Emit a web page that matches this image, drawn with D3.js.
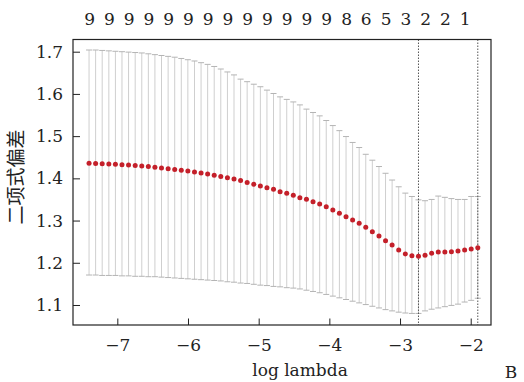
<!DOCTYPE html>
<meta charset="utf-8">
<style>
body { margin: 0; background: #fff; }
</style>
<svg width="524" height="382"></svg>
<script src="https://d3js.org/d3.v7.min.js"></script>
<script>

// log(lambda) path of the cv fit
var logLambda = [-7.400, -7.307, -7.214, -7.120, -7.027, -6.934, -6.841, -6.747, -6.654, -6.561,
  -6.468, -6.375, -6.281, -6.188, -6.095, -6.002, -5.908, -5.815, -5.722, -5.629,
  -5.536, -5.442, -5.349, -5.256, -5.163, -5.069, -4.976, -4.883, -4.790, -4.697,
  -4.603, -4.510, -4.417, -4.324, -4.231, -4.137, -4.044, -3.951, -3.858, -3.764,
  -3.671, -3.578, -3.485, -3.392, -3.298, -3.205, -3.112, -3.019, -2.925, -2.832,
  -2.739, -2.646, -2.553, -2.459, -2.366, -2.273, -2.180, -2.086, -1.993, -1.900];

// mean cv binomial deviance
var cvm = [1.4356, 1.4354, 1.4347, 1.4340, 1.4335, 1.4325, 1.4316, 1.4306, 1.4292, 1.4278,
  1.4261, 1.4245, 1.4228, 1.4212, 1.4193, 1.4174, 1.4150, 1.4127, 1.4103, 1.4074,
  1.4046, 1.4015, 1.3984, 1.3946, 1.3904, 1.3859, 1.3819, 1.3778, 1.3740, 1.3684,
  1.3645, 1.3598, 1.3542, 1.3503, 1.3448, 1.3392, 1.3329, 1.3250, 1.3171, 1.3092,
  1.3013, 1.2934, 1.2840, 1.2737, 1.2634, 1.2524, 1.2421, 1.2303, 1.2208, 1.2165,
  1.2155, 1.2176, 1.2224, 1.2255, 1.2255, 1.2263, 1.2279, 1.2303, 1.2326, 1.2358];

var cvup = [1.704, 1.704, 1.703, 1.702, 1.701, 1.700, 1.699, 1.698, 1.697, 1.695,
  1.693, 1.691, 1.689, 1.687, 1.684, 1.681, 1.678, 1.674, 1.670, 1.665,
  1.659, 1.652, 1.645, 1.635, 1.629, 1.623, 1.617, 1.609, 1.601, 1.593,
  1.587, 1.581, 1.574, 1.564, 1.556, 1.548, 1.537, 1.525, 1.513, 1.499,
  1.485, 1.473, 1.457, 1.443, 1.428, 1.412, 1.396, 1.380, 1.365, 1.357,
  1.349, 1.347, 1.350, 1.358, 1.355, 1.352, 1.350, 1.350, 1.357, 1.357];

var cvlo = [1.171, 1.171, 1.170, 1.170, 1.170, 1.169, 1.169, 1.168, 1.168, 1.167,
  1.167, 1.166, 1.165, 1.164, 1.163, 1.162, 1.161, 1.160, 1.159, 1.158,
  1.157, 1.155, 1.154, 1.152, 1.151, 1.149, 1.147, 1.146, 1.144, 1.143,
  1.141, 1.140, 1.138, 1.135, 1.132, 1.129, 1.125, 1.121, 1.117, 1.113,
  1.109, 1.105, 1.101, 1.097, 1.093, 1.089, 1.086, 1.083, 1.081, 1.080,
  1.080, 1.086, 1.090, 1.093, 1.096, 1.099, 1.102, 1.107, 1.111, 1.116];

// number of nonzero coefs shown on top (every 3rd lambda)
var nzIndex = [0, 3, 6, 9, 12, 15, 18, 21, 24, 27, 30, 33, 36, 39, 42, 45, 48, 51, 54, 57];
var nzLabels = ["9", "9", "9", "9", "9", "9", "9", "9", "9", "9", "9", "9", "9", "8", "6", "5", "3", "2", "2", "1"];

var xTicks = [-7, -6, -5, -4, -3, -2];
var yTicks = [1.1, 1.2, 1.3, 1.4, 1.5, 1.6, 1.7];

var lambdaMin = -2.739, lambda1se = -1.900;

var serif = "DejaVu Serif";

var svg = d3.select("svg"),
    box = {left: 73, right: 491, top: 39.5, bottom: 325};

var x = d3.scaleLinear().domain([-7.627, -1.713]).range([box.left, box.right]),
    y = d3.scaleLinear().domain([1.0526, 1.7289]).range([box.bottom, box.top]);

var data = logLambda.map(function(l, i) {
  return {l: l, m: cvm[i], up: cvup[i], lo: cvlo[i]};
});

// error bars
var bars = svg.append("g");
bars.selectAll(".eb")
  .data(data)
  .enter().append("line")
    .attr("x1", function(d) { return x(d.l); })
    .attr("x2", function(d) { return x(d.l); })
    .attr("y1", function(d) { return y(d.up); })
    .attr("y2", function(d) { return y(d.lo); })
    .attr("stroke", "#cfcfcf")
    .attr("stroke-width", 1);

["up", "lo"].forEach(function(k) {
  bars.selectAll(".cap-" + k)
    .data(data)
    .enter().append("line")
      .attr("x1", function(d) { return x(d.l) - 3; })
      .attr("x2", function(d) { return x(d.l) + 3; })
      .attr("y1", function(d) { return y(d[k]); })
      .attr("y2", function(d) { return y(d[k]); })
      .attr("stroke", "#b4b4b4")
      .attr("stroke-width", 1);
});

// lambda.min / lambda.1se
svg.selectAll(".vline")
  .data([lambdaMin, lambda1se])
  .enter().append("line")
    .attr("x1", function(d) { return x(d); })
    .attr("x2", function(d) { return x(d); })
    .attr("y1", box.top)
    .attr("y2", box.bottom)
    .attr("stroke", "#555")
    .attr("stroke-width", 1)
    .attr("stroke-dasharray", "1.5,1.5");

svg.selectAll(".dot")
  .data(data)
  .enter().append("circle")
    .attr("cx", function(d) { return x(d.l); })
    .attr("cy", function(d) { return y(d.m); })
    .attr("r", 2.5)
    .attr("fill", "#c4202a");

// axes
var xAxis = svg.append("g")
    .attr("transform", "translate(0," + box.bottom + ")")
    .call(d3.axisBottom(x).tickValues(xTicks).tickFormat(d3.format("d")).tickSize(-6.5).tickSizeOuter(0).tickPadding(14));

var yAxis = svg.append("g")
    .attr("transform", "translate(" + box.left + ",0)")
    .call(d3.axisLeft(y).tickValues(yTicks).tickFormat(d3.format(".1f")).tickSize(-7).tickSizeOuter(0).tickPadding(10));

var topAxis = svg.append("g")
    .attr("transform", "translate(0," + box.top + ")")
    .call(d3.axisTop(x).tickValues(nzIndex.map(function(i) { return logLambda[i]; }))
      .tickFormat(function(d, i) { return nzLabels[i]; })
      .tickSize(0).tickPadding(14.5));

[xAxis, yAxis, topAxis].forEach(function(a) {
  a.attr("font-family", serif).attr("font-size", 17);
  a.selectAll("text").attr("fill", "#222");
  a.selectAll("line").attr("stroke", "#222");
  a.select(".domain").remove();
});

svg.append("rect")
  .attr("x", box.left)
  .attr("y", box.top)
  .attr("width", box.right - box.left)
  .attr("height", box.bottom - box.top)
  .attr("fill", "none")
  .attr("stroke", "#222")
  .attr("stroke-width", 1.2);

svg.append("text")
  .attr("x", 300)
  .attr("y", 376)
  .attr("text-anchor", "middle")
  .attr("fill", "#222")
  .attr("font-family", serif)
  .attr("font-size", 17)
  .text("log lambda");

svg.append("text")
  .attr("transform", "translate(23,177) rotate(-90)")
  .attr("text-anchor", "middle")
  .attr("fill", "#222")
  .attr("font-family", "Noto Sans CJK SC")
  .attr("font-size", 19)
  .text("二项式偏差");

svg.append("text")
  .attr("x", 511)
  .attr("y", 378)
  .attr("text-anchor", "middle")
  .attr("fill", "#222")
  .attr("font-family", serif)
  .attr("font-size", 17)
  .text("B");

</script>
